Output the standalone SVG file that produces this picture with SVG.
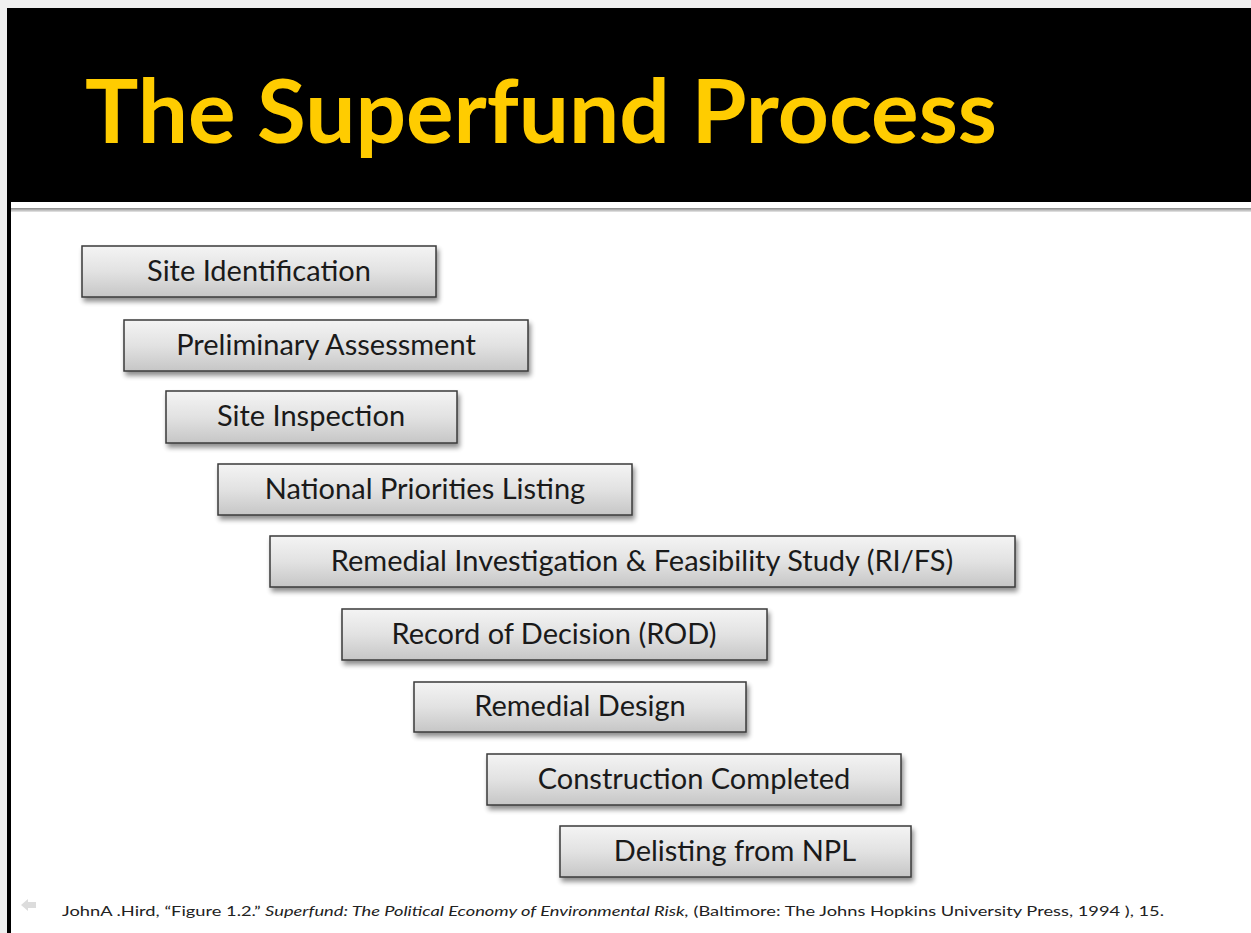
<svg xmlns="http://www.w3.org/2000/svg" width="1251" height="933" viewBox="0 0 1251 933">
<defs>
<linearGradient id="g" x1="0" y1="0" x2="0" y2="1">
<stop offset="0" stop-color="#f4f4f4"/>
<stop offset="0.5" stop-color="#e2e2e2"/>
<stop offset="1" stop-color="#c6c6c6"/>
</linearGradient>
<filter id="sh" x="-5%" y="-20%" width="112%" height="160%">
<feGaussianBlur in="SourceAlpha" stdDeviation="2.5"/>
<feOffset dx="2" dy="4"/>
<feComponentTransfer><feFuncA type="linear" slope="0.45"/></feComponentTransfer>
<feMerge><feMergeNode/><feMergeNode in="SourceGraphic"/></feMerge>
</filter>
<linearGradient id="hl" x1="0" y1="0" x2="0" y2="1">
<stop offset="0" stop-color="#888"/>
<stop offset="1" stop-color="#e8e8e8"/>
</linearGradient>
</defs>
<style>
.box{fill:url(#g);stroke:#3a3a3a;stroke-width:1.5;filter:url(#sh)}
.lbl{font-family:Lato,"Open Sans",sans-serif;font-size:29px;fill:#1a1a1a;text-anchor:middle}
</style>
<rect x="0" y="0" width="1251" height="933" fill="#f0f0f0"/>
<rect x="11" y="202" width="1240" height="731" fill="#fff"/>
<rect x="7" y="8" width="1244" height="194" fill="#000"/>
<rect x="11" y="208" width="1240" height="4" fill="url(#hl)"/>
<rect x="7" y="8" width="4" height="925" fill="#000"/>
<text x="85" y="143" font-family="Lato,'Open Sans',sans-serif" font-weight="bold" font-size="88" fill="#ffcc00" textLength="912" lengthAdjust="spacingAndGlyphs">The Superfund Process</text>
<g id="n1"><rect class="box" x="82" y="246" width="354" height="51"/><text class="lbl" x="259" y="281">Site Identification</text></g>
<g id="n2"><rect class="box" x="124" y="320" width="404" height="51"/><text class="lbl" x="326" y="355">Preliminary Assessment</text></g>
<g id="n3"><rect class="box" x="166" y="391" width="291" height="52"/><text class="lbl" x="311" y="426">Site Inspection</text></g>
<g id="n4"><rect class="box" x="218" y="464" width="414" height="51"/><text class="lbl" x="425" y="499">National Priorities Listing</text></g>
<g id="n5"><rect class="box" x="270" y="536" width="745" height="51"/><text class="lbl" x="642" y="571">Remedial Investigation &amp; Feasibility Study (RI/FS)</text></g>
<g id="n6"><rect class="box" x="342" y="609" width="425" height="51"/><text class="lbl" x="554" y="644">Record of Decision (ROD)</text></g>
<g id="n7"><rect class="box" x="414" y="682" width="332" height="50"/><text class="lbl" x="580" y="716">Remedial Design</text></g>
<g id="n8"><rect class="box" x="487" y="754" width="414" height="51"/><text class="lbl" x="694" y="789">Construction Completed</text></g>
<g id="n9"><rect class="box" x="560" y="826" width="351" height="51"/><text class="lbl" x="735" y="861">Delisting from NPL</text></g>
<g id="connectors"></g>
<polygon points="21,905 28,899 28,902 36,902 36,908 28,908 28,911" fill="#dcdcdc"/>
<text x="62" y="916" font-family="Lato,'Open Sans',sans-serif" font-size="14" fill="#222" textLength="1102" lengthAdjust="spacingAndGlyphs">JohnA .Hird, “Figure 1.2.”  <tspan font-style="italic">Superfund:  The Political Economy of Environmental  Risk,</tspan> (Baltimore: The Johns Hopkins University Press, 1994 ), 15.</text>
</svg>
